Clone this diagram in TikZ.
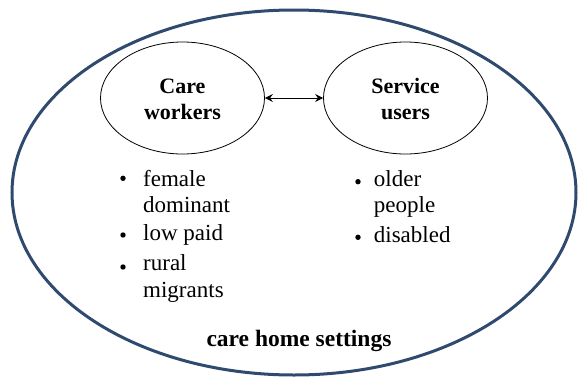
\documentclass[tikz,border=0pt]{standalone}
\usepackage{fontspec}
\setmainfont{Liberation Serif}
\usetikzlibrary{shapes.geometric,arrows.meta}
\definecolor{outerblue}{RGB}{47,74,110}
\tikzset{
  outerring/.style={draw=outerblue, line width=3pt},
  groupring/.style={draw=black, line width=0.8pt, ellipse, minimum width=164pt, minimum height=112pt, inner sep=0pt},
  lbl/.style={font=\fontsize{22}{26}\selectfont\bfseries, inner sep=0pt, anchor=base},
  itm/.style={font=\fontsize{23}{27}\selectfont, inner sep=0pt, anchor=base west},
  dotb/.style={circle, fill=black, inner sep=0pt, minimum size=5.4pt},
  link/.style={line width=0.9pt, {Stealth[length=8pt,width=8pt,inset=2.8pt]}-{Stealth[length=8pt,width=8pt,inset=2.8pt]}}
}
\begin{document}
\begin{tikzpicture}[x=1pt,y=-1pt]
\useasboundingbox (0,0) rectangle (579,378);
\draw[outerring] (294,192.5) ellipse [x radius=282, y radius=182.5];
\node[groupring] (cw) at (182.5,98) {};
\node[groupring] (su) at (405.5,98) {};
\draw[link] (cw.east) -- (su.west);
\node[lbl] (cw1) at (182.5,93) {Care};
\node[lbl] (cw2) at (182.5,119.3) {workers};
\node[lbl] (su1) at (405.5,93) {Service};
\node[lbl] (su2) at (405.5,119.3) {users};
% left list
\node[dotb] (b1) at (123,178.3) {};
\node[itm] (t1) at (143,186.7) {female};
\node[itm] (t2) at (143,212.5) {dominant};
\node[dotb] (b2) at (123,235) {};
\node[itm] (t3) at (143,240.7) {low paid};
\node[dotb] (b3) at (123,267) {};
\node[itm] (t4) at (143,270.5) {rural};
\node[itm] (t5) at (143,297.5) {migrants};
% right list
\node[dotb] (b4) at (358,181.7) {};
\node[itm] (r1) at (373.7,186.7) {older};
\node[itm] (r2) at (373.7,212.3) {people};
\node[dotb] (b5) at (358,237.3) {};
\node[itm] (r3) at (373.7,242.3) {disabled};
\node[font=\fontsize{23.5}{27}\selectfont\bfseries, inner sep=0pt, anchor=base] (chs) at (299,346.5) {care home settings};
\end{tikzpicture}
\end{document}
